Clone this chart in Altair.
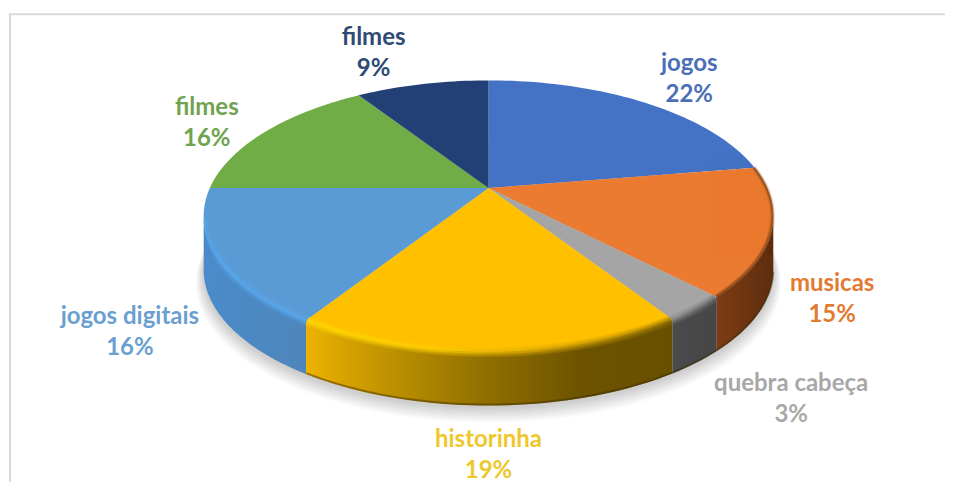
import math
import altair as alt

# ---- values
names = ["jogos", "musicas", "quebra cabeça", "historinha", "jogos digitais", "filmes", "filmes"]
shares = [22, 15, 3, 19, 16, 16, 9]
slice_sizes = [22.4, 15.3, 3.1, 18.3, 15.9, 15.8, 9.2]
face_colors = ["#4472c4", "#ea7b30", "#a5a5a5", "#ffc000", "#5b9bd5", "#70ad47", "#234076"]
label_colors = ["#4a6fb8", "#e27a32", "#a8a8a8", "#eec72c", "#6b9fcf", "#70a350", "#2e4a75"]

# ---- layout (page pixels)
OFF = 8
CX, CY = 489 - OFF, 188 - OFF
A, B, C = 279.0, 130.0, 0.206
DEPTH = 54
label_anchor = [(690, 64), (833, 284), (792, 384), (489, 440), (130, 317), (207, 108), (374, 38)]

# ---- wall styling per slice index
wall_stops = {
    4: ["#4a8ccb", "#4c88c2", "#4f86ba"],
    3: ["#eeb200", "#b98e00", "#8f6e00", "#6d5300", "#685000"],
    2: ["#4b4b4b", "#464646"],
    1: ["#7c3d15", "#5e2d0e"],
}
rim_stops = {
    4: ["#55a5ec", "#58a8ee"],
    3: ["#ffd900", "#ffd000", "#d9a400", "#8f6e00"],
    2: ["#8a8a8a", "#6a6a6a"],
    1: ["#7a3c14", "#8a4618"],
}


def project(theta, r=1.0, dy=0.0):
    u, v = r * math.sin(theta), -r * math.cos(theta)
    d = 1 - C * v
    return [CX + A * u / d, CY + B * v / d + dy]


def arc(t0, t1, r=1.0, dy=0.0, step=math.radians(1.5)):
    n = max(2, int(abs(t1 - t0) / step) + 1)
    return [project(t0 + (t1 - t0) * i / n, r, dy) for i in range(n + 1)]


def feature(geom_type, coords, **props):
    return {"type": "Feature", "properties": props,
            "geometry": {"type": geom_type, "coordinates": coords}}


PROJ = dict(type="identity", scale=1, translate=[0, 0])

total = sum(slice_sizes)
edges = [0.0]
for s in slice_sizes:
    edges.append(edges[-1] + s / total * 2 * math.pi)

# silhouette limits of the cylinder wall
TH_R = math.pi - math.acos(C)
TH_L = math.pi + math.acos(C)


def grad(stops, x1=0, x2=1):
    n = len(stops) - 1
    return alt.Gradient(gradient="linear", x1=x1, x2=x2, y1=0, y2=0,
                        stops=[alt.GradientStop(offset=i / n, color=c) for i, c in enumerate(stops)])


layers = []

# border of the screenshot
border = "#d9d9d9"
layers.append(alt.Chart().mark_rule(color=border, strokeWidth=2).encode(
    x=alt.value(2), y=alt.value(5), y2=alt.value(474)))
layers.append(alt.Chart().mark_rule(color=border, strokeWidth=2).encode(
    x=alt.value(1), x2=alt.value(938), y=alt.value(6)))

# soft shadow
shadow = []
for k in range(12):
    grow = 1.0 + 0.0022 * (12 - k)
    ring = arc(0, 2 * math.pi, grow, DEPTH + 2 + (12 - k) * 0.8)
    shadow.append(feature("Polygon", [ring]))
layers.append(alt.Chart(alt.Data(values=shadow)).mark_geoshape(
    fill="#000000", stroke=None, opacity=0.014).project(**PROJ))

# walls
for i, stops in wall_stops.items():
    t0, t1 = max(edges[i], TH_R), min(edges[i + 1], TH_L)
    top = arc(t0, t1)
    bottom = arc(t1, t0, 1.0, DEPTH)
    ring = top + bottom + [top[0]]
    layers.append(alt.Chart(alt.Data(values=[feature("Polygon", [ring])])).mark_geoshape(
        fill=grad(stops), stroke=None).project(**PROJ))

# dark foot of the wall
foot = feature("LineString", arc(TH_R + 0.02, edges[4], 1.0, DEPTH - 1))
layers.append(alt.Chart(alt.Data(values=[foot])).mark_geoshape(
    filled=False, stroke="#3a2a00", strokeWidth=2, opacity=0.45).project(**PROJ))

# top faces
faces = []
for i, col in enumerate(face_colors):
    ring = [project(0, 0)] + arc(edges[i], edges[i + 1]) + [project(0, 0)]
    faces.append(feature("Polygon", [ring], fill=col))
layers.append(alt.Chart(alt.Data(values=faces)).mark_geoshape(strokeWidth=0).encode(
    color=alt.Color("properties.fill:N", scale=None)).project(**PROJ))

# bevel along the rim; the wider strokes stop earlier so that it tapers at the silhouette
for i, stops in rim_stops.items():
    if i == 1:
        r, dy = 0.997, 0.0
        widths = ((5, 0.2, 0.0), (3, 0.35, 0.0), (1.5, 0.6, 0.0))
    else:
        r, dy = 0.995, 1.5
        widths = ((10, 0.22, 0.3), (7, 0.3, 0.16), (3.5, 0.6, 0.02))
    for width, op, cut in widths:
        t1 = min(edges[i + 1], TH_L - cut)
        line = arc(edges[i], t1, r, dy)
        layers.append(alt.Chart(alt.Data(values=[feature("LineString", line)])).mark_geoshape(
            filled=False, stroke=grad(stops), strokeWidth=width, opacity=op).project(**PROJ))

# labels
rows = []
for name, share, col, (x, y) in zip(names, shares, label_colors, label_anchor):
    rows.append({"t": f"{name}\n{share}%", "c": col, "lon": x - OFF, "lat": y - OFF})
layers.append(alt.Chart(alt.Data(values=rows)).mark_text(
    font="Lato", fontWeight="bold", fontSize=24, lineBreak="\n", lineHeight=31,
    align="center", baseline="middle").encode(
    longitude="lon:Q", latitude="lat:Q", text="t:N",
    color=alt.Color("c:N", scale=None)).project(**PROJ))

chart = alt.layer(*layers).properties(width=938, height=474, padding=0, background="#ffffff").configure_view(
    strokeWidth=0)

chart.save("out.html", embed_options={"renderer": "svg", "actions": False})
